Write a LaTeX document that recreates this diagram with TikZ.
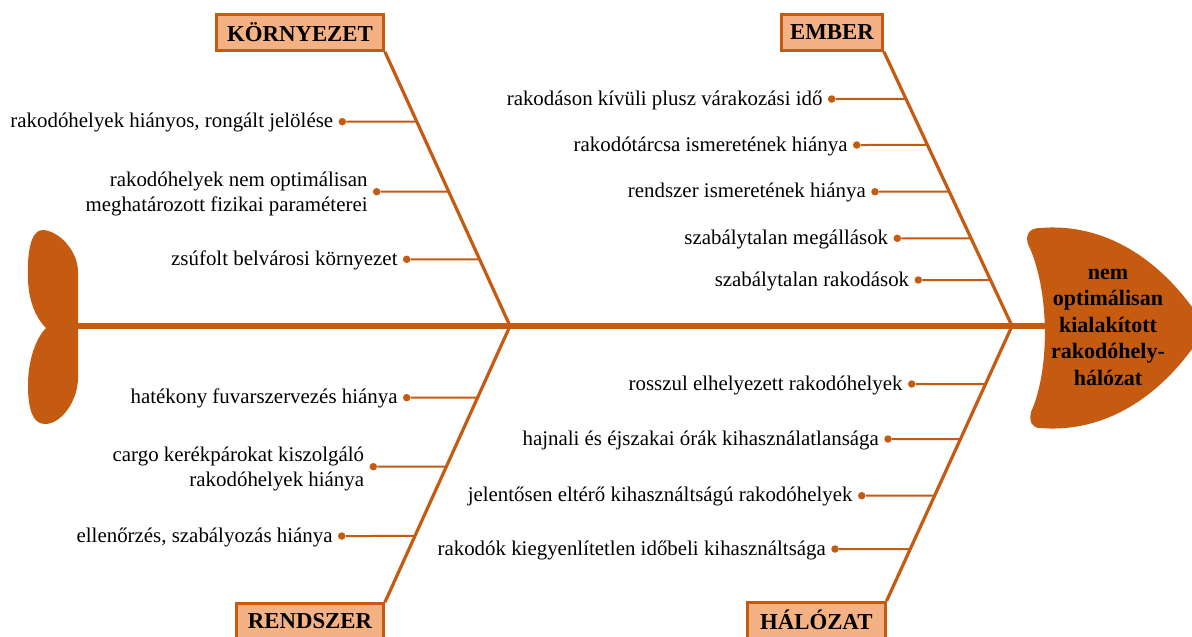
\documentclass[tikz,border=0pt]{standalone}
\usepackage{fontspec}
\setmainfont{Liberation Serif}
\usetikzlibrary{calc}
\definecolor{fcol}{HTML}{C55A11}
\definecolor{boxfill}{HTML}{F4B183}
\begin{document}
\begin{tikzpicture}[x=1pt,y=-1pt,
  bone/.style={draw=fcol,line width=3.2pt},
  spine/.style={draw=fcol,line width=5.5pt},
  branch/.style={draw=fcol,line width=2pt},
  bdot/.style={circle,fill=fcol,inner sep=0pt,minimum size=7.5pt},
  lbl/.style={anchor=east,align=right,inner sep=0pt,font=\fontsize{20.9}{25.5}\selectfont},
  cat/.style={draw=fcol,fill=boxfill,line width=2.8pt,inner sep=0pt,minimum height=35.6pt,font=\fontsize{22.8}{26}\selectfont\bfseries},
  ]
\useasboundingbox (0,0) rectangle (1192,637);
\clip (0,0) rectangle (1192,637);

% spine
\coordinate (tailR) at (78,326);
\coordinate (J1) at (510,326);
\coordinate (J2) at (1012,326);
\coordinate (headL) at (1046,326);
\draw[spine] (tailR) -- (headL);

% tail
\fill[fcol] (78,328) -- (78,272) .. controls (78,250) and (58,230) .. (42,230)
  .. controls (30,231) and (27,255) .. (28,280) .. controls (29,305) and (38,320) .. (46,328) -- cycle;
\fill[fcol] (46,328) .. controls (36,338) and (28,360) .. (28,385) .. controls (28,410) and (33,424) .. (45,424)
  .. controls (62,424) and (78,400) .. (78,378) -- (78,324) -- cycle;

% head
\fill[fcol] (1040,228) .. controls (1112,222) and (1170,268) .. (1206,328)
  .. controls (1170,388) and (1112,434) .. (1040,428)
  .. controls (1032,428) and (1029,422) .. (1031,412)
  .. controls (1050,370) and (1050,290) .. (1028,244)
  .. controls (1025,234) and (1030,228) .. (1040,228) -- cycle;
\node[font=\fontsize{22}{26.5}\selectfont\bfseries,align=center,inner sep=0pt] (head) at (1108,327)
  {nem\\optimálisan\\kialakított\\rakodóhely-\\hálózat};

% category boxes
\node[cat,minimum width=167pt] (kor) at (300,32.5) {KÖRNYEZET};
\node[cat,minimum width=101pt] (emb) at (832,32.5) {EMBER};
\node[cat,minimum width=147pt] (ren) at (310,621.5) {RENDSZER};
\node[cat,minimum width=137.7pt] (hal) at (816.3,620.2) {HÁLÓZAT};

% bones
\draw[bone] (kor.south east) -- (J1);
\draw[bone] (emb.south east) -- (J2);
\draw[bone] (J1) -- (ren.north east);
\draw[bone] (J2) -- (hal.north east);

% points on bones
\coordinate (k1) at ($(kor.south east)!0.2552!(J1)$);
\coordinate (k2) at ($(kor.south east)!0.5104!(J1)$);
\coordinate (k3) at ($(kor.south east)!0.7568!(J1)$);
\coordinate (e1) at ($(emb.south east)!0.1724!(J2)$);
\coordinate (e2) at ($(emb.south east)!0.3401!(J2)$);
\coordinate (e3) at ($(emb.south east)!0.5104!(J2)$);
\coordinate (e4) at ($(emb.south east)!0.6803!(J2)$);
\coordinate (e5) at ($(emb.south east)!0.8323!(J2)$);
\coordinate (r1) at ($(J1)!0.2595!(ren.north east)$);
\coordinate (r2) at ($(J1)!0.5092!(ren.north east)$);
\coordinate (r3) at ($(J1)!0.7600!(ren.north east)$);
\coordinate (h1) at ($(J2)!0.2109!(hal.north east)$);
\coordinate (h2) at ($(J2)!0.4109!(hal.north east)$);
\coordinate (h3) at ($(J2)!0.6171!(hal.north east)$);
\coordinate (h4) at ($(J2)!0.8109!(hal.north east)$);

% dots
\node[bdot] (dk1) at (342.3,121.7) {};
\node[bdot] (dk2) at (376.7,191.7) {};
\node[bdot] (dk3) at (406.7,259.3) {};
\node[bdot] (de1) at (831.7,99) {};
\node[bdot] (de2) at (856.7,145) {};
\node[bdot] (de3) at (875,191.7) {};
\node[bdot] (de4) at (897.3,238.3) {};
\node[bdot] (de5) at (918.3,280) {};
\node[bdot] (dr1) at (406.7,397.7) {};
\node[bdot] (dr2) at (373.3,466.7) {};
\node[bdot] (dr3) at (341.7,536) {};
\node[bdot] (dh1) at (911.7,384) {};
\node[bdot] (dh2) at (888,439) {};
\node[bdot] (dh3) at (861.7,495.7) {};
\node[bdot] (dh4) at (835,549) {};

% branches
\foreach \d/\b in {dk1/k1,dk2/k2,dk3/k3,de1/e1,de2/e2,de3/e3,de4/e4,de5/e5,dr1/r1,dr2/r2,dr3/r3,dh1/h1,dh2/h2,dh3/h3,dh4/h4}
  \draw[branch] (\d) -- (\b);

% labels
\node[lbl] (lk1) at ([xshift=-5pt,yshift=-1pt]dk1.west) {rakodóhelyek hiányos, rongált jelölése};
\node[lbl] (lk2) at ([xshift=-5pt,yshift=-2.5pt]dk2.west) {rakodóhelyek nem optimálisan\\meghatározott fizikai paraméterei};
\node[lbl] (lk3) at ([xshift=-5pt,yshift=-1pt]dk3.west) {zsúfolt belvárosi környezet};
\node[lbl] (le1) at ([xshift=-5pt,yshift=-1pt]de1.west) {rakodáson kívüli plusz várakozási idő};
\node[lbl] (le2) at ([xshift=-5pt,yshift=-1pt]de2.west) {rakodótárcsa ismeretének hiánya};
\node[lbl] (le3) at ([xshift=-5pt,yshift=-1pt]de3.west) {rendszer ismeretének hiánya};
\node[lbl] (le4) at ([xshift=-5pt,yshift=-1pt]de4.west) {szabálytalan megállások};
\node[lbl] (le5) at ([xshift=-5pt,yshift=-1pt]de5.west) {szabálytalan rakodások};
\node[lbl] (lr1) at ([xshift=-5pt,yshift=-1pt]dr1.west) {hatékony fuvarszervezés hiánya};
\node[lbl] (lr2) at ([xshift=-5pt,yshift=-2.5pt]dr2.west) {cargo kerékpárokat kiszolgáló\\rakodóhelyek hiánya};
\node[lbl] (lr3) at ([xshift=-5pt,yshift=-1pt]dr3.west) {ellenőrzés, szabályozás hiánya};
\node[lbl] (lh1) at ([xshift=-5pt,yshift=-1pt]dh1.west) {rosszul elhelyezett rakodóhelyek};
\node[lbl] (lh2) at ([xshift=-5pt,yshift=-1pt]dh2.west) {hajnali és éjszakai órák kihasználatlansága};
\node[lbl] (lh3) at ([xshift=-5pt,yshift=-1pt]dh3.west) {jelentősen eltérő kihasználtságú rakodóhelyek};
\node[lbl] (lh4) at ([xshift=-5pt,yshift=-1pt]dh4.west) {rakodók kiegyenlítetlen időbeli kihasználtsága};
\end{tikzpicture}
\end{document}
